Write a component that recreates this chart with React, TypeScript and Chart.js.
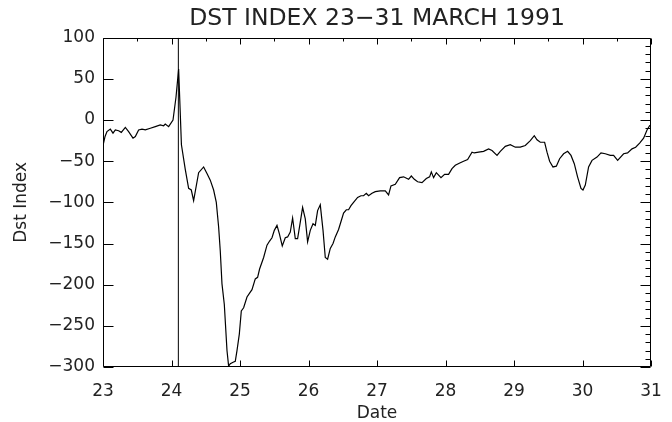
import React, { useEffect, useRef } from 'react';
import { Chart, registerables } from 'chart.js';

Chart.register(...registerables);

const TITLE = 'DST INDEX 23\u221231 MARCH 1991';
const X_LABEL = 'Date';
const Y_LABEL = 'Dst Index';
const X_MIN = 23;
const X_MAX = 31;
const Y_MIN = -300;
const Y_MAX = 100;
const ONSET_DAY = 24.1;

const xTicks = [23, 24, 25, 26, 27, 28, 29, 30, 31];
const yTicks = [-300, -250, -200, -150, -100, -50, 0, 50, 100];

// fractional day of March 1991
const days = [
  23.0, 23.03, 23.058, 23.107, 23.146, 23.18, 23.228, 23.267, 23.326, 23.374,
  23.438, 23.472, 23.52, 23.569, 23.618, 23.691, 23.764, 23.836, 23.885, 23.909,
  23.958, 24.022, 24.066, 24.104, 24.145, 24.201, 24.25, 24.289, 24.323, 24.396,
  24.469, 24.518, 24.566, 24.615, 24.654, 24.688, 24.712, 24.737, 24.771, 24.81,
  24.834, 24.858, 24.907, 24.931, 24.956, 24.99, 25.019, 25.053, 25.102, 25.15,
  25.175, 25.223, 25.257, 25.286, 25.345, 25.394, 25.432, 25.467, 25.501, 25.54,
  25.574, 25.617, 25.661, 25.695, 25.734, 25.768, 25.807, 25.841, 25.88, 25.914,
  25.953, 25.987, 26.026, 26.066, 26.099, 26.133, 26.172, 26.212, 26.245, 26.279,
  26.318, 26.358, 26.391, 26.439, 26.479, 26.512, 26.552, 26.585, 26.62, 26.658,
  26.717, 26.766, 26.804, 26.844, 26.877, 26.927, 26.975, 27.048, 27.121, 27.169,
  27.204, 27.267, 27.33, 27.388, 27.461, 27.501, 27.545, 27.593, 27.657, 27.72,
  27.768, 27.793, 27.826, 27.866, 27.934, 27.987, 28.045, 28.095, 28.143, 28.216,
  28.264, 28.323, 28.387, 28.42, 28.483, 28.556, 28.629, 28.679, 28.752, 28.8,
  28.873, 28.946, 29.019, 29.092, 29.165, 29.238, 29.296, 29.336, 29.384, 29.447,
  29.482, 29.52, 29.569, 29.618, 29.666, 29.724, 29.783, 29.832, 29.88, 29.928,
  29.978, 30.007, 30.041, 30.089, 30.139, 30.212, 30.27, 30.333, 30.406, 30.454,
  30.513, 30.6, 30.658, 30.723, 30.776, 30.834, 30.892, 30.942, 30.98, 31.0,
];

// Dst index (nT)
const dst = [
  -31, -20, -14, -11, -16, -12, -13, -15, -9, -14,
  -22, -20, -12, -11, -12, -10, -8, -6, -7, -5,
  -8, 0, 28, 62, -30, -60, -83, -85, -98, -64,
  -57, -65, -73, -85, -100, -130, -159, -199, -224, -280,
  -299, -296, -294, -293, -280, -260, -232, -228, -215, -209,
  -206, -193, -191, -181, -167, -152, -147, -143, -134, -128,
  -138, -153, -143, -142, -136, -119, -144, -144, -124, -106,
  -120, -148, -134, -126, -128, -110, -103, -134, -167, -169,
  -156, -150, -142, -133, -122, -113, -109, -109, -104, -100,
  -94, -92, -92, -89, -92, -89, -87, -86, -86, -91,
  -80, -78, -70, -69, -72, -68, -72, -75, -76, -71,
  -69, -63, -70, -64, -70, -66, -66, -59, -55, -52,
  -50, -48, -39, -40, -39, -38, -35, -37, -43, -38,
  -32, -30, -33, -33, -31, -25, -19, -24, -27, -27,
  -39, -50, -57, -56, -47, -41, -38, -43, -53, -69,
  -83, -85, -79, -57, -49, -45, -40, -41, -43, -43,
  -49, -41, -40, -35, -33, -28, -22, -12, -7, -6,
];

const FONT_FAMILY = '"DejaVu Sans", sans-serif';
const TEXT_COLOR = '#222';

const frameTicksPlugin = {
  id: 'frameTicks',
  afterDatasetsDraw(chart: any) {
    const { ctx, chartArea: a, scales } = chart;
    const x = scales.x;
    const y = scales.y;
    const L = Math.round(a.left) + 0.5;
    const R = Math.round(a.right) - 0.5;
    const T = Math.round(a.top) + 0.5;
    const B = Math.round(a.bottom) - 0.5;
    ctx.save();
    ctx.strokeStyle = '#000';
    ctx.lineWidth = 1;
    ctx.beginPath();
    ctx.moveTo(L, T);
    ctx.lineTo(R, T);
    ctx.lineTo(R, B);
    ctx.lineTo(L, B);
    ctx.closePath();
    for (let d = X_MIN; d <= X_MAX + 1e-9; d += 0.5) {
      const px = Math.round(x.getPixelForValue(d)) + 0.5;
      const major = Math.abs(d - Math.round(d)) < 1e-6;
      if (major) {
        ctx.moveTo(px, B);
        ctx.lineTo(px, B - 6);
        ctx.moveTo(px, T);
        ctx.lineTo(px, T + 6);
      } else {
        ctx.moveTo(px, T);
        ctx.lineTo(px, T + 3);
      }
    }
    for (let v = Y_MIN; v <= Y_MAX; v += 10) {
      const py = Math.round(y.getPixelForValue(v)) + 0.5;
      const major = v % 50 === 0;
      if (major) {
        ctx.moveTo(L, py);
        ctx.lineTo(L + 10, py);
        ctx.moveTo(R, py);
        ctx.lineTo(R - 10, py);
      } else {
        ctx.moveTo(R, py);
        ctx.lineTo(R - 5, py);
      }
    }
    ctx.stroke();
    ctx.restore();
  },
};

export default function App() {
  const canvasRef = useRef<HTMLCanvasElement | null>(null);

  useEffect(() => {
    const canvas = canvasRef.current;
    if (!canvas) return;
    const font = { family: FONT_FAMILY, size: 17, weight: 'normal' as const };
    const chart = new Chart(canvas, {
      type: 'line',
      data: {
        datasets: [
          {
            label: 'Dst',
            data: days.map((d, i) => ({ x: d, y: dst[i] })),
            borderColor: '#000',
            borderWidth: 1.2,
            pointRadius: 0,
            tension: 0,
            fill: false,
          },
          {
            label: 'onset',
            data: [
              { x: ONSET_DAY, y: Y_MIN },
              { x: ONSET_DAY, y: Y_MAX },
            ],
            borderColor: '#000',
            borderWidth: 1,
            pointRadius: 0,
            fill: false,
          },
        ],
      },
      options: {
        responsive: false,
        animation: false,
        layout: { padding: { left: 0, right: 21, top: 0, bottom: 0 } },
        plugins: {
          legend: { display: false },
          tooltip: { enabled: false },
          title: {
            display: true,
            fullSize: false,
            text: TITLE,
            color: TEXT_COLOR,
            font: { family: FONT_FAMILY, size: 23.5, weight: 'normal', lineHeight: 1.2 },
            padding: { top: 5, bottom: 4.5 },
          },
        },
        scales: {
          x: {
            type: 'linear',
            min: X_MIN,
            max: X_MAX,
            afterBuildTicks: (s: any) => {
              s.ticks = xTicks.map((v) => ({ value: v }));
            },
            afterFit: (s: any) => {
              s.height = 55;
              s.paddingLeft = 0;
              s.paddingRight = 0;
            },
            ticks: {
              color: TEXT_COLOR,
              font,
              padding: 14,
              maxRotation: 0,
              autoSkip: false,
            },
            grid: { display: false, drawTicks: false },
            border: { display: false },
            title: {
              display: true,
              text: X_LABEL,
              color: TEXT_COLOR,
              font,
              padding: { top: 0, bottom: -2 },
            },
          },
          y: {
            type: 'linear',
            min: Y_MIN,
            max: Y_MAX,
            afterBuildTicks: (s: any) => {
              s.ticks = yTicks.map((v) => ({ value: v }));
            },
            afterFit: (s: any) => {
              s.width = 103;
            },
            ticks: {
              color: TEXT_COLOR,
              font,
              padding: 8,
              callback: (v: any) => (Number(v) < 0 ? '\u2212' + Math.abs(Number(v)) : String(v)),
            },
            grid: { display: false, drawTicks: false },
            border: { display: false },
            title: {
              display: true,
              text: Y_LABEL,
              color: TEXT_COLOR,
              font,
              padding: { top: 11, bottom: 0 },
            },
          },
        },
      },
      plugins: [frameTicksPlugin],
    });
    return () => chart.destroy();
  }, []);

  return (
    <div style={{ position: 'absolute', left: 0, top: 0, width: 672, height: 422, background: '#fff' }}>
      <canvas ref={canvasRef} width={672} height={422} />
    </div>
  );
}
